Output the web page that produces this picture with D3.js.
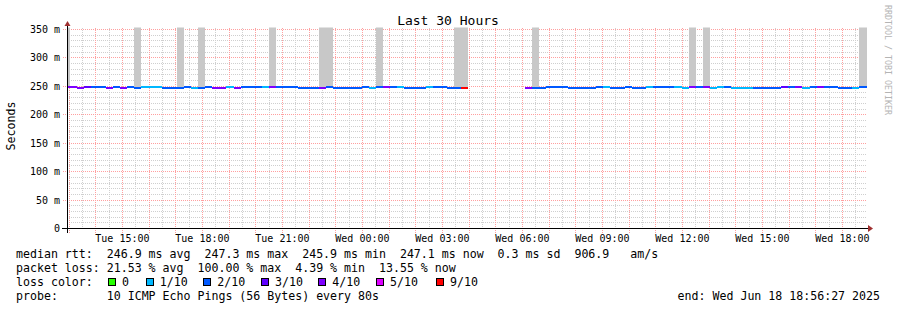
<!DOCTYPE html>
<html>
<head>
<meta charset="utf-8">
<script src="https://cdn.jsdelivr.net/npm/d3@7"></script>
<style>
  body { margin: 0; background: #fff; }
  text { font-family: 'DejaVu Sans Mono', monospace; white-space: pre; }
</style>
</head>
<body>
<div id="chart"></div>
<script>
// Graph window: 30 hours ending at the last probe update
const startTime = new Date(Date.UTC(2025, 5, 17, 12, 56, 27));
const endTime = new Date(Date.UTC(2025, 5, 18, 18, 56, 27));
const stepSec = 960; // consolidation step of the RRA used
const firstSampleOffset = -553; // first sample starts this many seconds before startTime

// Median rtt per step (ms), null = no data
const medianRtt = [
  247.4, 247.4, 246.4, 247.6, 247.2, 247.2, 246.8, 247.2, 246.6, 247.3,
  246.5, 247.2, 247.3, 247.2, 247.0, 246.9, 246.6, 247.3, 247.1, 247.0,
  247.2, 246.7, 246.6, 247.3, 246.9, 247.3, 247.2, 247.3, 247.4, 247.3,
  247.4, 247.3, 247.2, 246.5, 246.5, 246.6, 247.0, 247.4, 247.1, 247.0,
  247.0, 247.1, 247.2, 247.0, 247.2, 247.2, 247.2, 247.3, 247.0, 247.1,
  246.6, 247.2, 247.2, 247.3, 246.6, 246.8, 247.0, null, null, null,
  null, null, null, null, null, 246.6, 247.1, 247.1, 247.6, 247.2,
  247.2, 247.1, 247.1, 246.5, 246.5, 247.2, 247.2, 246.5, 246.5, 247.2,
  246.5, 246.6, 247.2, 247.3, 247.3, 247.3, 247.3, 246.6, 247.4, 247.3,
  247.4, 246.5, 247.2, 247.2, 246.5, 246.5, 247.1, 246.6, 246.5, 246.5,
  246.6, 247.3, 247.2, 247.3, 247.1, 247.3, 247.4, 247.2, 247.2, 246.5,
  246.5, 247.0, 247.2, 247.2
];

// Packet loss per step, in tenths (10 pings per round)
const lossTenths = [
  4, 4, 4, 3, 2, 2, 4, 2, 4, 2,
  2, 1, 1, 1, 2, 2, 2, 2, 1, 2,
  2, 4, 4, 1, 4, 2, 2, 2, 1, 4,
  2, 2, 2, 2, 2, 2, 4, 2, 2, 2,
  2, 2, 2, 1, 2, 4, 2, 1, 2, 2,
  2, 1, 2, 2, 2, 2, 9, null, null, null,
  null, null, null, null, null, 4, 2, 2, 2, 2,
  2, 2, 2, 2, 2, 2, 1, 2, 2, 2,
  2, 2, 1, 2, 2, 2, 1, 1, 4, 2,
  4, 1, 1, 2, 1, 1, 1, 2, 2, 2,
  2, 3, 2, 4, 1, 2, 4, 2, 2, 2,
  2, 1, 2, 2
];

// Smoke: steps whose slowest ping went far above the median
const spikeIdx = [0, 10, 16, 19, 29, 36, 37, 44, 55, 56, 66, 88, 90, 112, 113];
const spikeTop = [362, 360, 361, 359, 363, 360, 362, 361, 364, 360, 358, 362, 360, 361, 360];

// Smoke: steps with a small visible spread around the median
const smokeIdx = [3, 15, 32, 69, 70, 101, 108];
const smokeLow = [245.4, 245.8, 245.7, 247.0, 247.0, 245.4, 247.0];
const smokeHigh = [248.2, 247.2, 247.4, 249.2, 249.2, 247.5, 249.2];

const yTicks = [0, 50, 100, 150, 200, 250, 300, 350];

const lossLevels = [0, 1, 2, 3, 4, 5, 9];
const lossLabels = ['0', '1/10', '2/10', '3/10', '4/10', '5/10', '9/10'];
const lossColors = ['#26ff00', '#00b8ff', '#0059ff', '#5e00ff', '#7e00ff', '#dd00ff', '#ff0000'];

const legendRtt = 'median rtt:  246.9 ms avg  247.3 ms max  245.9 ms min  247.1 ms now  0.3 ms sd  906.9   am/s';
const legendLoss = 'packet loss: 21.53 % avg  100.00 % max  4.39 % min  13.55 % now';
const legendProbe = 'probe:       10 ICMP Echo Pings (56 Bytes) every 80s';
const legendEnd = 'end: Wed Jun 18 18:56:27 2025';

let
w = 897,
h = 310,
pL = 67, pR = 867, pT = 29, pB = 228,
gridMinor = '#cfcfcf',
gridMajor = '#ff9f9f',
smokeColor = '#c8c8c8',
arrowColor = '#a03030',
mono = "'DejaVu Sans Mono', monospace",

xScale = d3.scaleUtc().domain([startTime, endTime]).range([pL, pR]),
yScale = d3.scaleLinear().domain([0, 350]).range([pB, pT]),
lossColor = d3.scaleOrdinal().domain(lossLevels).range(lossColors),

svg = d3.select('#chart').append('svg')
  .attr('width', w).attr('height', h)
  .style('display', 'block');

svg.append('rect').attr('width', w).attr('height', h).attr('fill', '#fff');

// start / end time of step i
const stepStart = i => new Date(startTime.getTime() + (firstSampleOffset + i * stepSec) * 1000);
const stepEnd = i => stepStart(i + 1);
const clampX = v => Math.max(pL, Math.min(pR, v));

// Grid: minor every 30 min / 10 ms, major every hour / 50 ms
const grid = svg.append('g').attr('shape-rendering', 'crispEdges');
d3.utcMinute.every(30).range(startTime, endTime)
  .filter(t => t.getUTCMinutes() !== 0)
  .forEach(t => {
    grid.append('line').attr('x1', Math.round(xScale(t)) + 0.5).attr('x2', Math.round(xScale(t)) + 0.5)
      .attr('y1', pT - 1).attr('y2', pB)
      .attr('stroke', gridMinor).attr('stroke-dasharray', '1,1');
  });
d3.range(10, 351, 10).filter(v => v % 50 !== 0).forEach(v => {
  grid.append('line').attr('x1', pL).attr('x2', pR)
    .attr('y1', Math.round(yScale(v)) + 0.5).attr('y2', Math.round(yScale(v)) + 0.5)
    .attr('stroke', gridMinor).attr('stroke-dasharray', '1,1');
});
d3.utcHour.range(startTime, endTime).forEach(t => {
  grid.append('line').attr('x1', Math.round(xScale(t)) + 0.5).attr('x2', Math.round(xScale(t)) + 0.5)
    .attr('y1', pT - 1).attr('y2', pB + 5)
    .attr('stroke', gridMajor).attr('stroke-dasharray', '1,1');
});
yTicks.filter(v => v > 0).forEach(v => {
  grid.append('line').attr('x1', pL - 4).attr('x2', pR)
    .attr('y1', Math.round(yScale(v)) + 0.5).attr('y2', Math.round(yScale(v)) + 0.5)
    .attr('stroke', gridMajor).attr('stroke-dasharray', '1,1');
});

// Clip data marks to the canvas
svg.append('clipPath').attr('id', 'plotClip')
  .append('rect').attr('x', pL).attr('y', pT - 1.5).attr('width', pR - pL).attr('height', pB - pT + 1.5);
const plot = svg.append('g').attr('clip-path', 'url(#plotClip)').attr('shape-rendering', 'crispEdges');

// Smoke spikes (slow pings), drawn from the median up
plot.selectAll('rect.spike')
  .data(spikeIdx)
  .enter().append('rect')
  .attr('class', 'spike')
  .attr('x', i => clampX(xScale(stepStart(i))))
  .attr('width', i => clampX(xScale(stepEnd(i))) - clampX(xScale(stepStart(i))))
  .attr('y', (i, k) => yScale(spikeTop[k]))
  .attr('height', (i, k) => yScale(medianRtt[i]) - yScale(spikeTop[k]))
  .attr('fill', smokeColor);

// Small smoke around the median
plot.selectAll('rect.smoke')
  .data(smokeIdx)
  .enter().append('rect')
  .attr('class', 'smoke')
  .attr('x', i => clampX(xScale(stepStart(i))))
  .attr('width', i => clampX(xScale(stepEnd(i))) - clampX(xScale(stepStart(i))))
  .attr('y', (i, k) => yScale(smokeHigh[k]))
  .attr('height', (i, k) => yScale(smokeLow[k]) - yScale(smokeHigh[k]))
  .attr('fill', smokeColor);

// Median rtt, coloured by packet loss of the step
plot.selectAll('rect.median')
  .data(medianRtt.map((v, i) => ({v, i, loss: lossTenths[i]})).filter(d => d.v !== null))
  .enter().append('rect')
  .attr('class', 'median')
  .attr('x', d => clampX(xScale(stepStart(d.i))))
  .attr('width', d => clampX(xScale(stepEnd(d.i))) - clampX(xScale(stepStart(d.i))))
  .attr('y', d => yScale(d.v) - 1)
  .attr('height', 2)
  .attr('fill', d => lossColor(d.loss));

// Y axis labels
const yAxis = d3.axisLeft(yScale).tickValues(yTicks).tickSize(0).tickPadding(7)
  .tickFormat(v => v === 0 ? '0' : v + ' m');
const gy = svg.append('g').attr('transform', 'translate(' + pL + ',0)').call(yAxis);
gy.select('.domain').remove();
gy.selectAll('text').attr('font-family', mono).attr('font-size', 10).attr('fill', '#000').attr('dy', '0.35em');

// X axis labels, every 3 hours
const xAxis = d3.axisBottom(xScale).ticks(d3.utcHour.every(3)).tickSize(0).tickPadding(7)
  .tickFormat(d3.utcFormat('%a %H:%M'));
const gx = svg.append('g').attr('transform', 'translate(0,' + pB + ')').call(xAxis);
gx.select('.domain').remove();
gx.selectAll('text').attr('font-family', mono).attr('font-size', 10).attr('fill', '#000');

// Axis lines and arrows
svg.append('line').attr('x1', pL - 5).attr('x2', pR + 2).attr('y1', pB + 0.5).attr('y2', pB + 0.5)
  .attr('stroke', '#000').attr('shape-rendering', 'crispEdges');
svg.append('line').attr('x1', pL + 0.5).attr('x2', pL + 0.5).attr('y1', pB + 5).attr('y2', pT - 3)
  .attr('stroke', '#000').attr('shape-rendering', 'crispEdges');
svg.append('path').attr('d', `M${pR + 1},${pB - 3}L${pR + 6},${pB + 0.5}L${pR + 1},${pB + 4}Z`).attr('fill', arrowColor);
svg.append('path').attr('d', `M${pL - 2.5},${pT - 3}L${pL + 0.5},${pT - 8}L${pL + 3.5},${pT - 3}Z`).attr('fill', arrowColor);

// Title and axis title
svg.append('text').attr('x', 448).attr('y', 24.5).attr('text-anchor', 'middle')
  .attr('font-size', 13).text('Last 30 Hours');
svg.append('text').attr('transform', 'translate(15,126) rotate(-90)').attr('text-anchor', 'middle')
  .attr('font-size', 11.6).text('Seconds');
svg.append('text').attr('transform', 'translate(885,5) rotate(90)')
  .attr('font-size', 8.3).attr('fill', '#b4b4b4').text('RRDTOOL / TOBI OETIKER');

// Legend
const legend = svg.append('g').attr('font-size', 11.6);
legend.append('text').attr('x', 16).attr('y', 258).text(legendRtt);
legend.append('text').attr('x', 16).attr('y', 272).text(legendLoss);
legend.append('text').attr('x', 16).attr('y', 286).text('loss color:');
legend.append('text').attr('x', 16).attr('y', 300).text(legendProbe);
legend.append('text').attr('x', 880).attr('y', 300).attr('text-anchor', 'end').text(legendEnd);

const swatchX = [108, 145.7, 203.3, 261, 318.3, 376, 436];
lossLabels.forEach((lab, k) => {
  legend.append('rect').attr('x', swatchX[k] + 0.5).attr('y', 278.5).attr('width', 7).attr('height', 7)
    .attr('fill', lossColors[k]).attr('stroke', '#000').attr('shape-rendering', 'crispEdges');
  legend.append('text').attr('x', swatchX[k] + 14).attr('y', 286).text(lab);
});
</script>
</body>
</html>
